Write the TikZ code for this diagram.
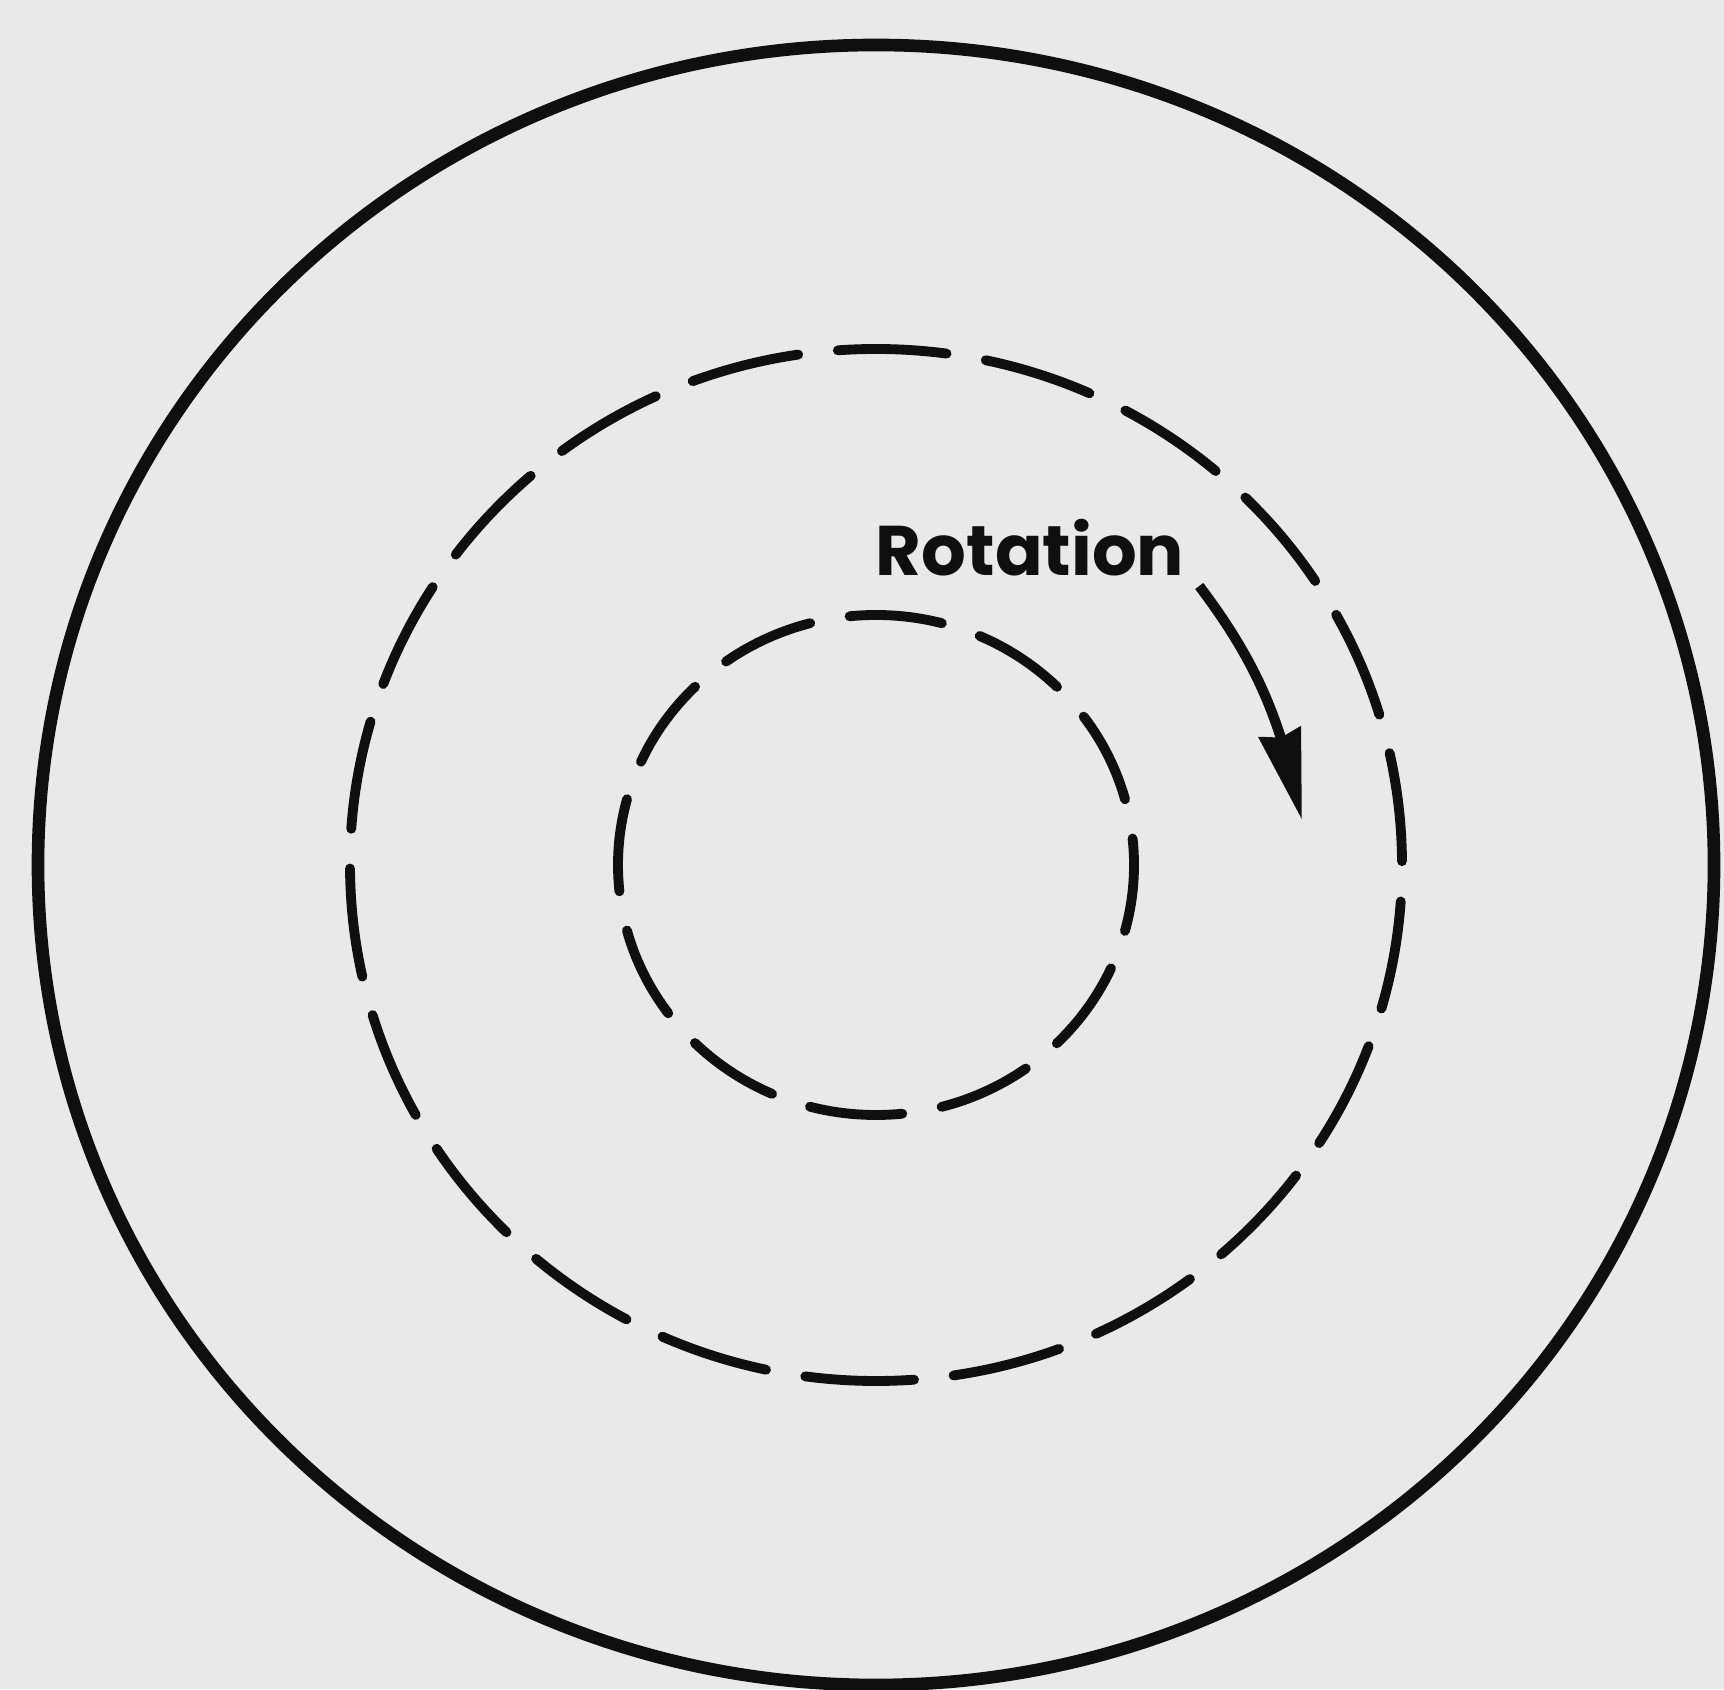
\documentclass[tikz,border=0pt]{standalone}
\usepackage{fontspec}
\newfontfamily\rotfont{Poppins}
\usetikzlibrary{arrows.meta,bending}
\definecolor{paper}{RGB}{233,233,233}
\definecolor{ink}{RGB}{15,15,15}
\begin{document}
\begin{tikzpicture}[
        rim/.style={
            draw=ink,
            line width=3.6pt
        },
        orbit/.style={
            draw=ink,
            line width=2.8pt,
            line cap=round
        },
        rotarrow/.style={
            draw=ink,
            line width=2.9pt,
            -{Stealth[length=9mm,width=4.2mm,inset=0.5mm,flex]}
        },
        rotlabel/.style={
            inner sep=0pt,
            text=ink,
            font=\rotfont\bfseries\fontsize{20}{20}\selectfont
        }
    ]
        % Page
        \fill[paper] (0,0) rectangle (17.24,16.89);
        \useasboundingbox (0,0) rectangle (17.24,16.89);
        \coordinate (c) at (8.76,8.24);

        % Outer circle
        \draw[rim] (c) ellipse [x radius=8.38, y radius=8.20];

        % Dashed circles
        \draw[orbit, dash pattern=on 1.09cm off 0.398cm, dash phase=1.45cm]
            (c) ellipse [x radius=5.26, y radius=5.16];
        \draw[orbit, dash pattern=on 0.93cm off 0.40cm, dash phase=0.665cm]
            (c) ellipse [x radius=2.58, y radius=2.50];

        % Rotation
        \node[rotlabel] (rot) at (10.30,11.41) {Rotation};
        \coordinate (rotstart) at ([shift={(40.8:4.27)}]c);
        \coordinate (rottip) at (13.02,8.69);
        \draw[rotarrow] (rotstart) to[out=-53, in=102] (rottip);
    \end{tikzpicture}
\end{document}
